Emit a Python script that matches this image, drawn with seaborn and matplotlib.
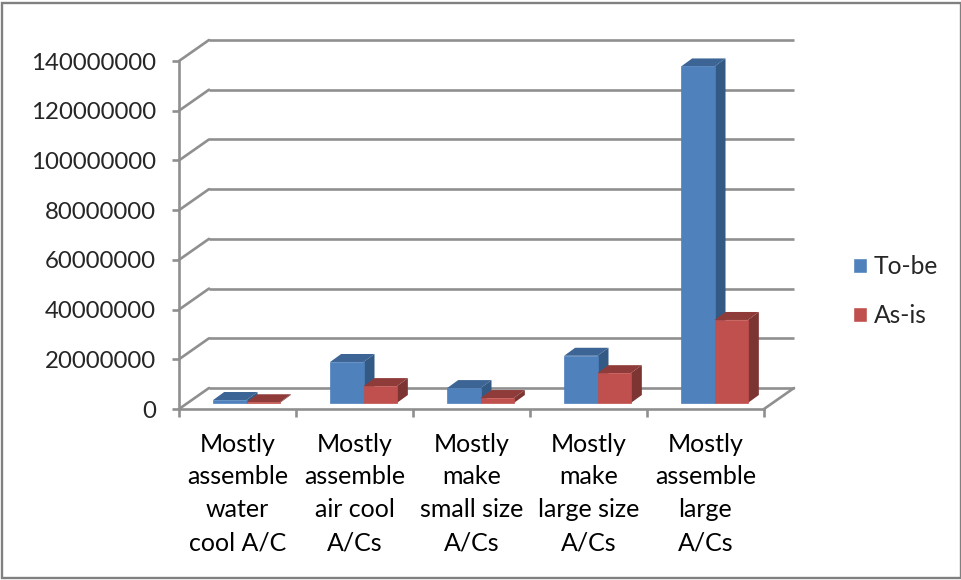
import matplotlib
matplotlib.use('Agg')
import matplotlib.pyplot as plt
from matplotlib.patches import Polygon, Rectangle
from matplotlib.transforms import Affine2D
import numpy as np
import pandas as pd
import seaborn as sns

categories = ['Mostly\nassemble\nwater\ncool A/C', 'Mostly\nassemble\nair cool\nA/Cs', 'Mostly\nmake\nsmall size\nA/Cs',
              'Mostly\nmake\nlarge size\nA/Cs', 'Mostly\nassemble\nlarge\nA/Cs']
to_be = [1200000, 16500000, 6000000, 19000000, 135400000]
as_is = [300000, 6800000, 2000000, 12000000, 33400000]

W, H = 962, 580
GRAY = '#8f8f8f'
LW = 1.9
SERIES = {'To-be': ('#4f81bd', '#3c6494', '#335a85'), 'As-is': ('#c0504d', '#8f3b39', '#7d3533')}

df = pd.DataFrame({'cat': categories * 2, 'val': to_be + as_is,
                   'series': ['To-be'] * 5 + ['As-is'] * 5})

sns.set_style('white')
plt.rcParams['font.family'] = ['Lato', 'DejaVu Sans']

fig = plt.figure(figsize=(W / 100, H / 100), dpi=100)
ax = fig.add_axes([179 / W, (H - 409) / H, 585 / W, 348 / H])
ax.patch.set_alpha(0)

sns.barplot(data=df, x='cat', y='val', hue='series', palette={k: v[0] for k, v in SERIES.items()},
            width=0.57, gap=0, saturation=1, ax=ax, zorder=3, legend=True)
ax.set_xlim(-0.5, 4.5)
ax.set_ylim(0, 140000000)
ax.set_xlabel('')
ax.set_ylabel('')
ax.ticklabel_format(style='plain', axis='y')
ax.set_yticks(np.arange(0, 140000001, 20000000))

# ticks sit between the categories, labels stay centred
ax.set_xticks(np.arange(-0.5, 5), minor=True)
ax.tick_params(axis='x', which='major', length=0, pad=17, labelsize=18, colors='black')
ax.tick_params(axis='x', which='minor', bottom=True, length=6, width=LW, color=GRAY)
ax.tick_params(axis='y', left=True, length=5, width=LW, color=GRAY, pad=11.5, labelsize=17.3)
for lab in ax.get_xticklabels():
    lab.set_linespacing(1.52)

for s in ['top', 'right']:
    ax.spines[s].set_visible(False)
for s in ['left', 'bottom']:
    ax.spines[s].set_color(GRAY)
    ax.spines[s].set_linewidth(LW)

# back wall and side wall, shifted from the front plane
DX, DY = 30, 21
back = ax.transData + Affine2D().translate(DX, DY)
ax.hlines(ax.get_yticks(), -0.5, 4.5, color=GRAY, lw=LW, transform=back, clip_on=False, zorder=1)
for y in ax.get_yticks():
    x0, y0 = ax.transData.transform((-0.5, y))
    ax.plot([x0, x0 + DX], [y0, y0 + DY], color=GRAY, lw=LW, transform=None, clip_on=False, zorder=1)
x0, y0 = ax.transData.transform((4.5, 0))
ax.plot([x0, x0 + DX], [y0, y0 + DY], color=GRAY, lw=LW, transform=None, clip_on=False, zorder=1)

# bars stand mid-way in the floor depth, add side and top faces from each bar
SHIFT_X, SHIFT_Y = 9, 6
BAR_DX, BAR_DY = 11, 8
for order, (name, container) in enumerate(zip(SERIES, ax.containers)):
    front, top, side = SERIES[name]
    z = 3 + order
    for bar in container:
        bar.set_transform(ax.transData + Affine2D().translate(SHIFT_X, SHIFT_Y))
        bar.set_zorder(z + 0.5)
        bar.set_clip_on(False)
        bar.set_edgecolor(front)
        bar.set_linewidth(0.5)
        (xa, ya), (xb, yb) = ax.transData.transform([(bar.get_x(), 0), (bar.get_x() + bar.get_width(), bar.get_height())])
        xa, xb, ya, yb = xa + SHIFT_X, xb + SHIFT_X, ya + SHIFT_Y, yb + SHIFT_Y
        ax.add_patch(Polygon([(xa, yb), (xb, yb), (xb + BAR_DX, yb + BAR_DY), (xa + BAR_DX, yb + BAR_DY)],
                             closed=True, fc=top, ec='none', transform=None, clip_on=False, zorder=z))
        ax.add_patch(Polygon([(xb, ya), (xb + BAR_DX, ya + BAR_DY), (xb + BAR_DX, yb + BAR_DY), (xb, yb)],
                             closed=True, fc=side, ec='none', transform=None, clip_on=False, zorder=z))

handles, labels = ax.get_legend_handles_labels()
ax.get_legend().remove()
fig.legend(handles, labels, loc='center left', bbox_to_anchor=(831 / W, (H - 291) / H), frameon=False,
           fontsize=17.7, handlelength=0.57, handleheight=0.57, handletextpad=0.28, labelspacing=1.07)

fig.add_artist(Rectangle((2 / W, 2 / H), 958.5 / W, 575.5 / H, transform=fig.transFigure, fill=False, ec='#808080', lw=1.7))

fig.savefig('out.png', dpi=100)
